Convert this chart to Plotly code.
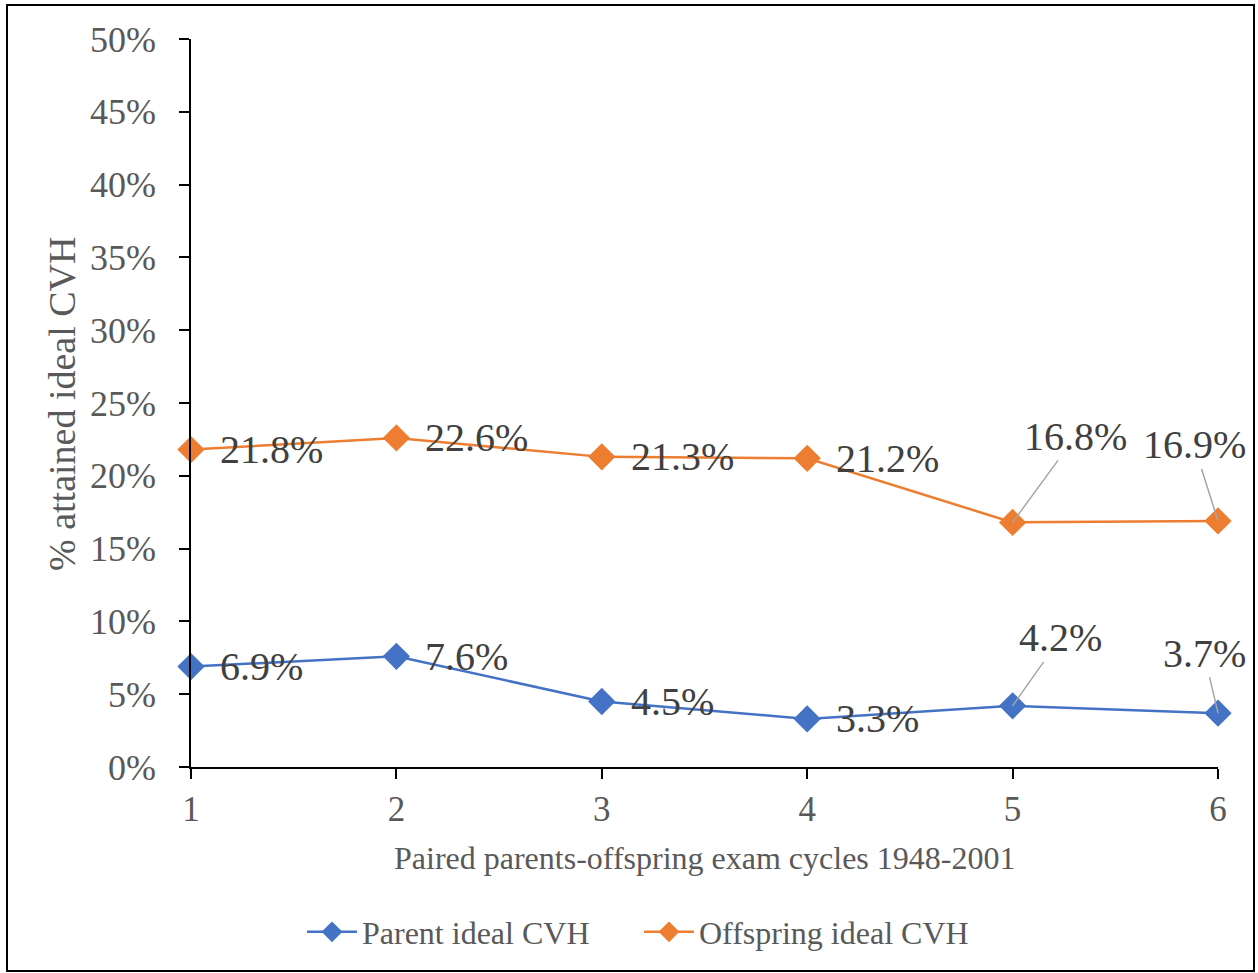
import plotly.graph_objects as go

# ---- data ----
cycles = [1, 2, 3, 4, 5, 6]
parent_ideal = [6.9, 7.6, 4.5, 3.3, 4.2, 3.7]
offspring_ideal = [21.8, 22.6, 21.3, 21.2, 16.8, 16.9]
y_ticks = [0, 5, 10, 15, 20, 25, 30, 35, 40, 45, 50]
series_names = ["Parent ideal CVH", "Offspring ideal CVH"]

# ---- layout geometry (pixels) ----
W, H = 1258, 973
L, R, T, B = 191, 1218, 39, 767
PW, PH = R - L, B - T

def px_x(p):
    return (p - L) / PW

def px_y(p):
    return (B - p) / PH

FONT = "Liberation Serif"
BLUE = "#4472C4"
ORANGE = "#ED7D31"
LABEL_COLOR = "#404040"
TICK_COLOR = "#595959"

fig = go.Figure()
for name, vals, col in [(series_names[0], parent_ideal, BLUE),
                        (series_names[1], offspring_ideal, ORANGE)]:
    fig.add_trace(go.Scatter(
        x=cycles, y=vals, name=name, mode="lines+markers",
        line=dict(color=col, width=2.5),
        marker=dict(symbol="diamond", size=21, color=col),
        cliponaxis=False,
    ))

annotations = []
# labels placed to the right of points (first four cycles)
for vals in (parent_ideal, offspring_ideal):
    for i in range(4):
        annotations.append(dict(
            x=cycles[i], y=vals[i], xref="x", yref="y",
            text=f"{vals[i]}%", showarrow=False,
            xanchor="left", yanchor="middle", xshift=27, yshift=0,
            font=dict(family=FONT, size=40, color=LABEL_COLOR),
        ))

# labels moved with leader lines (last two cycles)
moved = [
    (offspring_ideal, 4, 63, -86),
    (offspring_ideal, 5, -24, -76),
    (parent_ideal, 4, 48, -68),
    (parent_ideal, 5, -14, -60),
]
for vals, i, ax, ay in moved:
    annotations.append(dict(
        x=cycles[i], y=vals[i], xref="x", yref="y",
        text=f"{vals[i]}%", showarrow=True, arrowhead=0,
        arrowcolor="#A6A6A6", arrowwidth=1.5, standoff=0,
        ax=ax, ay=ay, axref="pixel", ayref="pixel",
        font=dict(family=FONT, size=40, color=LABEL_COLOR),
    ))

# axis titles
annotations.append(dict(
    x=0.5, y=0, xref="paper", yref="paper", yshift=-(858 - B),
    text="Paired parents-offspring exam cycles 1948-2001", showarrow=False,
    xanchor="center", yanchor="middle",
    font=dict(family=FONT, size=32, color=TICK_COLOR),
))
annotations.append(dict(
    x=0, y=px_y(404), xref="paper", yref="paper", xshift=62 - L,
    text="% attained ideal CVH", showarrow=False, textangle=-90,
    xanchor="center", yanchor="middle",
    font=dict(family=FONT, size=38, color=TICK_COLOR),
))

# outer chart border
shapes = [dict(
    type="rect", xref="paper", yref="paper",
    x0=px_x(7), x1=px_x(1254), y0=px_y(971), y1=px_y(5),
    line=dict(color="black", width=2), fillcolor="rgba(0,0,0,0)", layer="below",
)]

fig.update_layout(
    width=W, height=H,
    margin=dict(l=L, r=W - R, t=T, b=H - B, pad=0),
    paper_bgcolor="white", plot_bgcolor="white",
    font=dict(family=FONT, color=TICK_COLOR),
    showlegend=True,
    legend=dict(
        orientation="h", x=px_x(302), y=px_y(932),
        xanchor="left", yanchor="middle",
        font=dict(family=FONT, size=32, color=TICK_COLOR),
        bgcolor="rgba(0,0,0,0)", itemwidth=50,
        entrywidth=272, entrywidthmode="pixels",
    ),
    annotations=annotations,
    shapes=shapes,
)
fig.update_xaxes(
    range=[1, 6], tickvals=cycles, ticktext=[str(c) for c in cycles],
    showline=True, linecolor="black", linewidth=1.5,
    ticks="outside", ticklen=10, tickwidth=1.5, tickcolor="black",
    showgrid=False, zeroline=False,
    tickfont=dict(family=FONT, size=35, color=TICK_COLOR),
    ticklabelstandoff=0,
)
fig.update_yaxes(
    range=[0, 50], tickvals=y_ticks, ticktext=[f"{v}%" for v in y_ticks],
    showline=True, linecolor="black", linewidth=1.5,
    ticks="outside", ticklen=10, tickwidth=1.5, tickcolor="black",
    showgrid=False, zeroline=False,
    tickfont=dict(family=FONT, size=36, color=TICK_COLOR),
    ticklabelstandoff=16,
)

fig.write_html(
    "out.html",
    config={"displayModeBar": False},
    post_script="document.body.style.margin='0';document.body.style.overflow='hidden';",
)
